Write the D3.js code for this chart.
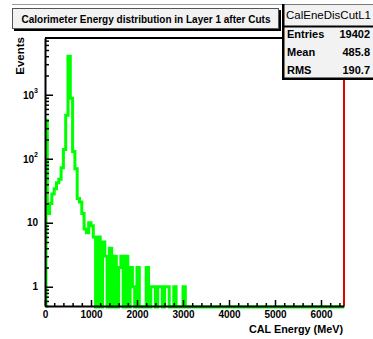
<!DOCTYPE html>
<html>
<head>
<meta charset="utf-8">
<script src="https://cdn.jsdelivr.net/npm/d3@7"></script>
<style>
  body { margin: 0; background: #fff; }
  svg { display: block; font-family: "Liberation Sans", Arial, Helvetica, sans-serif; font-weight: bold; }
</style>
</head>
<body>
<svg width="373" height="339"></svg>
<script>
// histogram bins, 50 MeV wide, starting at 0 MeV
const binWidth = 50;
const counts = [400, 14, 20, 28, 34, 42, 48, 72, 140, 480, 4000, 880, 130, 70, 24, 21,
  14, 8, 7, 10, 9, 6, 0, 6, 0, 5, 3, 0, 4, 0, 3, 0, 2, 3, 0, 3, 0, 2, 1, 0, 2, 0,
  0, 0, 2, 0, 1, 1, 0, 1, 1, 0, 1, 1, 0, 0, 1, 0, 0, 0, 1];

const xTicks = [0, 1000, 2000, 3000, 4000, 5000, 6000];
const yMajor = [1, 10, 100, 1000];
const statLabels = ['Entries', 'Mean', 'RMS'];
const statValues = ['19402', '485.8', '190.7'];
const histName = 'CalEneDisCutL1';
const titleText = 'Calorimeter Energy distribution in Layer 1 after Cuts';

const svg = d3.select('svg');
const fLeft = 45, fRight = 344, fTop = 38, fBottom = 306;

const x = d3.scaleLinear().domain([0, 6500]).range([fLeft, fRight]);
const y = d3.scaleLog().domain([0.5, 7700]).range([fBottom, fTop]);

// minor ticks
const xMinor = d3.range(0, 6500, 200).filter(v => v % 1000 !== 0);
const yMinor = [];
[0.1, 1, 10, 100, 1000].forEach(d => {
  for (let k = 2; k <= 9; k++) {
    const v = d * k;
    if (v >= 0.5 && v <= 7700) yMinor.push(v);
  }
});

svg.append('defs').append('clipPath').attr('id', 'frame')
  .append('rect')
  .attr('x', fLeft).attr('y', fTop)
  .attr('width', fRight - fLeft).attr('height', fBottom - fTop + 4);

// histogram outline (zero bins drop to the bottom of the frame)
const pts = [{ e: 0, v: 0 }];
counts.forEach((c, i) => pts.push({ e: i * binWidth, v: c }));
pts.push({ e: counts.length * binWidth, v: 0 });
pts.push({ e: 6500, v: 0 });

const line = d3.line()
  .x(d => x(d.e) + (d.e === 0 ? 1 : 0))
  .y(d => d.v > 0 ? y(d.v) : fBottom + 1)
  .curve(d3.curveStepAfter);

svg.append('path')
  .datum(pts)
  .attr('clip-path', 'url(#frame)')
  .attr('d', line)
  .attr('fill', 'none')
  .attr('stroke', '#00ff00')
  .attr('stroke-width', 3);

// frame top and right
svg.append('line')
  .attr('x1', fLeft).attr('x2', fRight).attr('y1', fTop).attr('y2', fTop)
  .attr('stroke', '#000').attr('stroke-width', 2);
svg.append('line')
  .attr('x1', fRight).attr('x2', fRight).attr('y1', fTop).attr('y2', fBottom)
  .attr('stroke', '#e00000').attr('stroke-width', 2);

// y axis
svg.append('g')
  .attr('transform', `translate(${fLeft},0)`)
  .call(d3.axisLeft(y).tickValues(yMinor).tickSize(-4).tickSizeOuter(0).tickFormat(''))
  .call(g => g.select('.domain').remove())
  .selectAll('line').attr('stroke-width', 1.5);

const gy = svg.append('g')
  .attr('transform', `translate(${fLeft},0)`)
  .call(d3.axisLeft(y).tickValues(yMajor).tickSize(-8).tickSizeOuter(0).tickPadding(7));
gy.select('.domain').attr('stroke-width', 2);
gy.selectAll('line').attr('stroke-width', 1.5);
gy.selectAll('.tick text')
  .attr('font-size', 10)
  .attr('font-family', null)
  .each(function (d) {
    const e = Math.round(Math.log10(d));
    const t = d3.select(this).text(null);
    if (e < 2) {
      t.text(d);
    } else {
      t.append('tspan').attr('dy', 4).text('10');
      t.append('tspan').attr('dy', -6).attr('font-size', 7).text(e);
    }
  });

// x axis
svg.append('g')
  .attr('transform', `translate(0,${fBottom})`)
  .call(d3.axisBottom(x).tickValues(xMinor).tickSize(-3).tickSizeOuter(0).tickFormat(''))
  .call(g => g.select('.domain').remove())
  .selectAll('line').attr('stroke-width', 1.5);

const gx = svg.append('g')
  .attr('transform', `translate(0,${fBottom})`)
  .call(d3.axisBottom(x).tickValues(xTicks).tickSize(-6).tickSizeOuter(0)
    .tickPadding(5).tickFormat(d3.format('d')));
gx.select('.domain').attr('stroke-width', 2);
gx.selectAll('line').attr('stroke-width', 1.5);
gx.selectAll('.tick text').attr('font-size', 10).attr('font-family', null);

// axis titles
svg.append('text')
  .attr('x', fRight - 1).attr('y', 333)
  .attr('text-anchor', 'end')
  .attr('font-size', 10.8)
  .text('CAL Energy (MeV)');

svg.append('text')
  .attr('transform', 'translate(23.5,37) rotate(-90)')
  .attr('text-anchor', 'end')
  .attr('font-size', 11.5)
  .text('Events');

// pad top border
svg.append('line')
  .attr('x1', 12).attr('x2', 373).attr('y1', 4.5).attr('y2', 4.5)
  .attr('stroke', '#999').attr('stroke-width', 1);

// title box
svg.append('rect')
  .attr('x', 14).attr('y', 10).attr('width', 267).attr('height', 21)
  .attr('fill', '#000');
svg.append('rect')
  .attr('x', 12.5).attr('y', 8.5).attr('width', 266).attr('height', 20)
  .attr('fill', '#f2f2f2').attr('stroke', '#555').attr('stroke-width', 1);
svg.append('text')
  .attr('x', 146).attr('y', 23)
  .attr('text-anchor', 'middle')
  .attr('font-size', 10)
  .text(titleText);

// stats box
svg.append('rect')
  .attr('x', 282).attr('y', 4).attr('width', 95).attr('height', 76)
  .attr('fill', '#000');
svg.append('rect')
  .attr('x', 284.5).attr('y', 4.5).attr('width', 92).attr('height', 73)
  .attr('fill', '#f2f2f2').attr('stroke', 'none');
svg.append('line')
  .attr('x1', 284).attr('x2', 373).attr('y1', 26.5).attr('y2', 26.5)
  .attr('stroke', '#000').attr('stroke-width', 2);
svg.append('text')
  .attr('x', 286).attr('y', 19)
  .attr('font-size', 11.5)
  .attr('font-weight', 'normal')
  .text(histName);

const rowY = d3.scalePoint().domain(statLabels).range([37.5, 74]);
svg.selectAll('.slab').data(statLabels).enter().append('text')
  .attr('x', 287).attr('y', d => rowY(d))
  .attr('font-size', 11)
  .text(d => d);
svg.selectAll('.sval').data(statValues).enter().append('text')
  .attr('x', 370).attr('y', (d, i) => rowY(statLabels[i]))
  .attr('text-anchor', 'end')
  .attr('font-size', 11)
  .text(d => d);
</script>
</body>
</html>
